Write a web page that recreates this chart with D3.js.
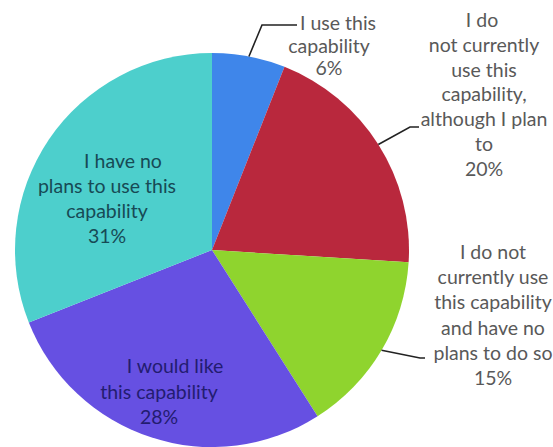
<!DOCTYPE html>
<html>
<head>
<meta charset="utf-8">
<script src="https://cdn.jsdelivr.net/npm/d3@7"></script>
<style>
  html, body { margin: 0; padding: 0; background: #fff; }
  svg { display: block; }
  text { font-family: Lato, "Open Sans", sans-serif; }
</style>
</head>
<body>
<svg id="chart" width="553" height="447"></svg>
<script>
// ---- data ----
const categories = [
  ["I use this", "capability"],
  ["I do", "not currently", "use this", "capability,", "although I plan", "to"],
  ["I do not", "currently use", "this capability", "and have no", "plans to do so"],
  ["I would like", "this capability"],
  ["I have no", "plans to use this", "capability"]
];
const values = [6, 20, 15, 28, 31];
const percentLabels = ["6%", "20%", "15%", "28%", "31%"];
const colors = ["#3f86ea", "#b9283d", "#8fd42e", "#6650e2", "#4dcfcc"];

// ---- layout ----
const W = 553, H = 447;
const cx = 212, cy = 250, R = 197;
const fontSize = 19.5;
// label placement: text centre x, first baseline y, line height, first-line shift, colour,
// and for outside labels a leader bend / end point
const labelLayout = [
  { x: 329, y: 30, lh: 22.5, shift: 9, color: "#595959", bend: [262, 25], end: [297, 25] },
  { x: 484, y: 27, lh: 24.8, shift: -2, color: "#595959", bend: [410, 127], end: [419, 127] },
  { x: 493, y: 259, lh: 25.2, shift: 0, color: "#595959", bend: [420, 358], end: [425, 358] },
  { x: 159, y: 373, lh: 25.5, shift: 16, color: "#231c70", bend: null },
  { x: 107, y: 168, lh: 25, shift: 16, color: "#174a55", bend: null }
];

const svg = d3.select("#chart");
const g = svg.append("g").attr("transform", `translate(${cx},${cy})`);

const pie = d3.pie().sort(null).value(d => d).startAngle(0).endAngle(2 * Math.PI);
const arcs = pie(values);
const arc = d3.arc().innerRadius(0).outerRadius(R);

g.selectAll("path.slice")
  .data(arcs)
  .join("path")
  .attr("class", "slice")
  .attr("d", arc)
  .attr("fill", (d, i) => colors[i]);

// leader lines
arcs.forEach((a, i) => {
  const L = labelLayout[i];
  if (!L.bend) return;
  const mid = (a.startAngle + a.endAngle) / 2;
  const sx = cx + R * Math.sin(mid), sy = cy - R * Math.cos(mid);
  svg.append("polyline")
    .attr("points", [[sx, sy], L.bend, L.end].map(p => p.join(",")).join(" "))
    .attr("fill", "none")
    .attr("stroke", "#222")
    .attr("stroke-width", 1.6);
});

// labels
arcs.forEach((a, i) => {
  const L = labelLayout[i];
  const lines = categories[i].concat([percentLabels[i]]);
  const t = svg.append("text")
    .attr("text-anchor", "middle")
    .attr("font-size", fontSize)
    .attr("fill", L.color);
  lines.forEach((ln, j) => {
    t.append("tspan")
      .attr("x", L.x + (j === 0 ? L.shift : 0))
      .attr("y", L.y + j * L.lh)
      .text(ln);
  });
});
</script>
</body>
</html>
